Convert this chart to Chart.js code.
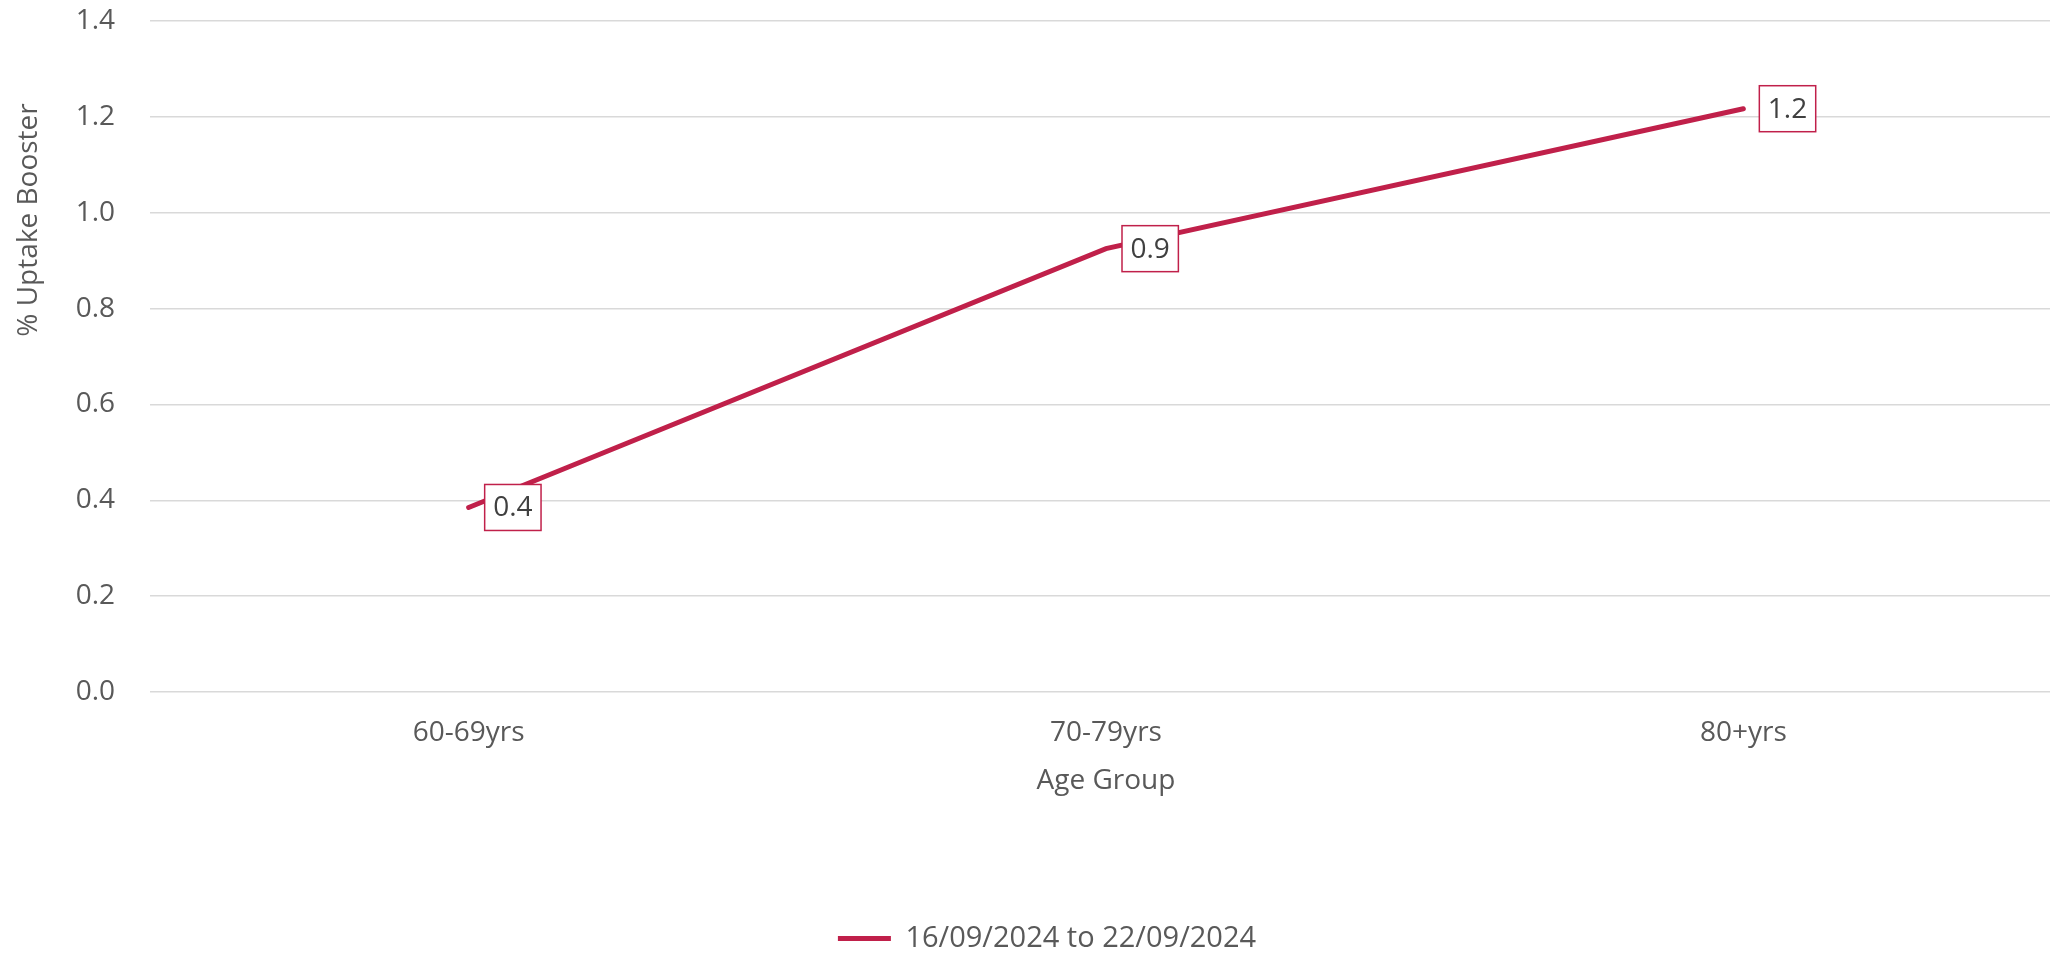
<!DOCTYPE html>
<html>
<head>
<meta charset="utf-8">
<script src="https://cdn.jsdelivr.net/npm/chart.js@4.4.0/dist/chart.umd.min.js"></script>
<style>
  html, body { margin: 0; padding: 0; background: #ffffff; overflow: hidden; }
  /* a área do gráfico passa um pouco da borda direita, como no original */
  #wrap { width: 2062px; height: 953px; }
</style>
</head>
<body>
<div id="wrap"><canvas id="grafico"></canvas></div>
<script>
const gruposIdade = ['60-69yrs', '70-79yrs', '80+yrs'];
const valoresBooster = [0.385, 0.925, 1.217];
const rotuloSerie = '16/09/2024 to 22/09/2024';
const tituloY = '% Uptake Booster';
const tituloX = 'Age Group';
const ticksY = [0, 0.2, 0.4, 0.6, 0.8, 1.0, 1.2, 1.4];

const corLinha = '#C0204A';
const corTexto = '#595959';
const fonte = "'Open Sans', 'Liberation Sans', sans-serif";
const tamFonte = 28;

// rótulos com caixa à direita de cada ponto + título do eixo Y
const pluginRotulos = {
  id: 'rotulos',
  afterLayout(chart) {
    // legenda um pouco mais abaixo e à direita, como no original
    chart.legend.top += 10;
    chart.legend.bottom += 10;
    chart.legend.left += 16;
    chart.legend.right += 16;
  },
  afterDraw(chart) {
    const ctx = chart.ctx;
    ctx.save();
    ctx.font = `${tamFonte}px ${fonte}`;
    ctx.fillStyle = corTexto;
    ctx.textAlign = 'center';
    ctx.textBaseline = 'middle';
    ctx.translate(29, 220);
    ctx.rotate(-Math.PI / 2);
    ctx.fillText(tituloY, 0, 0);
    ctx.restore();
  },
  afterDatasetsDraw(chart) {
    const ctx = chart.ctx;
    const meta = chart.getDatasetMeta(0);
    ctx.save();
    ctx.font = `${tamFonte}px ${fonte}`;
    ctx.textBaseline = 'middle';
    ctx.textAlign = 'center';
    meta.data.forEach((pt, i) => {
      const txt = valoresBooster[i].toFixed(1);
      const w = ctx.measureText(txt).width + 17;
      const h = 46;
      const x = pt.x + 16;
      const y = pt.y - h / 2;
      ctx.fillStyle = '#ffffff';
      ctx.fillRect(x, y, w, h);
      ctx.strokeStyle = corLinha;
      ctx.lineWidth = 1.5;
      ctx.strokeRect(x, y, w, h);
      ctx.fillStyle = '#404040';
      ctx.fillText(txt, x + w / 2, pt.y + 1);
    });
    ctx.restore();
  }
};

new Chart(document.getElementById('grafico').getContext('2d'), {
  type: 'line',
  data: {
    labels: gruposIdade,
    datasets: [{
      label: rotuloSerie,
      data: valoresBooster,
      borderColor: corLinha,
      backgroundColor: corLinha,
      borderWidth: 5,
      borderCapStyle: 'round',
      pointRadius: 0,
      tension: 0
    }]
  },
  options: {
    responsive: true,
    maintainAspectRatio: false,
    animation: false,
    devicePixelRatio: 1,
    layout: { padding: { top: 21, right: 0, bottom: 0, left: 0 } },
    plugins: {
      tooltip: { enabled: false },
      legend: {
        position: 'bottom',
        labels: {
          usePointStyle: true,
          pointStyle: 'line',
          pointStyleWidth: 53,
          boxHeight: tamFonte,
          color: corTexto,
          font: { family: fonte, size: 29 },
          padding: 10
        }
      }
    },
    scales: {
      x: {
        offset: true,
        grid: { display: false, drawTicks: false },
        border: { display: false },
        ticks: { color: corTexto, font: { family: fonte, size: tamFonte }, padding: 24 },
        title: {
          display: true,
          text: tituloX,
          color: corTexto,
          font: { family: fonte, size: tamFonte },
          padding: { top: 15, bottom: 106 }
        },
        afterFit(escala) {
          escala.height = 212;
          escala.paddingLeft = 0;
          escala.paddingRight = 0;
        }
      },
      y: {
        min: 0,
        max: 1.4,
        afterBuildTicks(escala) { escala.ticks = ticksY.map(v => ({ value: v })); },
        grid: { color: '#d9d9d9', lineWidth: 1.5, drawTicks: false },
        border: { display: false },
        ticks: {
          color: corTexto,
          font: { family: fonte, size: tamFonte },
          padding: 35,
          callback: v => v.toFixed(1)
        },
        afterFit(escala) {
          escala.width = 150;
          escala.paddingTop = 0;
          escala.paddingBottom = 0;
        }
      }
    }
  },
  plugins: [pluginRotulos]
});
</script>
</body>
</html>
